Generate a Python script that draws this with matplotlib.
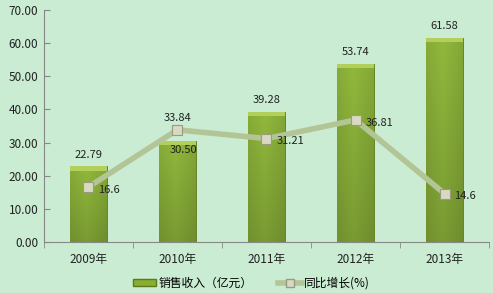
import numpy as np
import matplotlib.pyplot as plt
from matplotlib.patches import Patch
from matplotlib.lines import Line2D

plt.rcParams['font.family'] = ['Noto Sans CJK SC', 'DejaVu Sans']

years = ['2009年', '2010年', '2011年', '2012年', '2013年']
revenue = [22.79, 30.50, 39.28, 53.74, 61.58]
growth = [16.6, 33.84, 31.21, 36.81, 14.6]
yticks = [0, 10, 20, 30, 40, 50, 60, 70]

bg = '#c9ecd2'
fig = plt.figure(figsize=(4.93, 2.93), dpi=100, facecolor=bg)
ax = fig.add_axes([0.089, 0.174, 0.903, 0.792], facecolor=bg)

x = np.arange(len(years))
bars = ax.bar(x, revenue, width=0.41, color='#7fa22e', edgecolor='#5c7a1a', linewidth=0.6, zorder=2)

# cylinder-ish shading: lighter in the middle, darker at the sides and bottom
nx, ny = 64, 64
gx = np.linspace(0, 1, nx)
gy = np.linspace(0, 1, ny)[:, None]  # 0 bottom -> 1 top
side = 1 - 0.45 * np.abs(gx - 0.45) * 2
light = (0.80 + 0.18 * side[None, :]) * (0.84 + 0.16 * gy)
base = np.array([0.58, 0.74, 0.24])
img = np.clip(light[..., None] * base, 0, 1)
for b in bars:
    x0, w, h = b.get_x(), b.get_width(), b.get_height()
    im = ax.imshow(img, extent=[x0, x0 + w, 0, h], origin='lower', aspect='auto', zorder=2.1)
    im.set_clip_path(b)
    ax.bar(x0 + w / 2, 1.3, bottom=h - 1.3, width=w, color='#b2cf5c', linewidth=0, zorder=2.2)

ax.plot(x, growth, color='#b3c596', lw=4, zorder=3, solid_capstyle='butt')
ax.plot(x, growth, ls='none', marker='s', ms=7, mfc='#d9d8c2', mec='#9a9a80', mew=0.8, zorder=4)

for xi, v in zip(x, revenue):
    if xi == 1:
        ax.text(xi + 0.07, v - 2.6, f'{v:.2f}', ha='center', va='center', fontsize=8, color='#222222', zorder=5)
    else:
        ax.text(xi, v + 2.0, f'{v:.2f}', ha='center', va='bottom', fontsize=8, color='#222222', zorder=5)
for xi, v in zip(x, growth):
    if xi == 1:
        ax.text(xi, v + 2.2, f'{v:g}', ha='center', va='bottom', fontsize=8, color='#222222', zorder=5)
    else:
        ax.text(xi + 0.11, v - 0.8, f'{v:g}', ha='left', va='center', fontsize=8, color='#222222', zorder=5)

ax.set_xlim(-0.5, 4.5)
ax.set_ylim(0, 70)
ax.set_yticks(yticks)
ax.set_yticklabels([f'{t:.2f}' for t in yticks], fontsize=8.5, color='#222222')
ax.set_xticks(x)
ax.set_xticklabels(years, fontsize=8.5, color='#222222')
ax.set_xticks(np.arange(-0.5, 5, 1), minor=True)
ax.tick_params(axis='x', which='major', length=0, pad=8)
ax.tick_params(axis='x', which='minor', length=4, color='#888888', direction='out')
ax.tick_params(axis='y', length=4, color='#888888', direction='in', pad=4)
for s in ['top', 'right']:
    ax.spines[s].set_visible(False)
ax.spines['left'].set_color('#888888')
ax.spines['bottom'].set_color('#888888')

handles = [Patch(facecolor='#8aae34', edgecolor='#5c7a1a', label='销售收入（亿元）'),
           Line2D([0], [0], color='#b3c596', lw=4, marker='s', ms=6, mfc='#d9d8c2', mec='#9a9a80', label='同比增长(%)')]
fig.legend(handles=handles, loc='lower center', bbox_to_anchor=(0.51, -0.025), ncol=2, frameon=False,
           fontsize=8.5, handlelength=2.0, handleheight=0.5, handletextpad=0.2, columnspacing=2.2)

fig.savefig('out.png', dpi=100, facecolor=bg)
